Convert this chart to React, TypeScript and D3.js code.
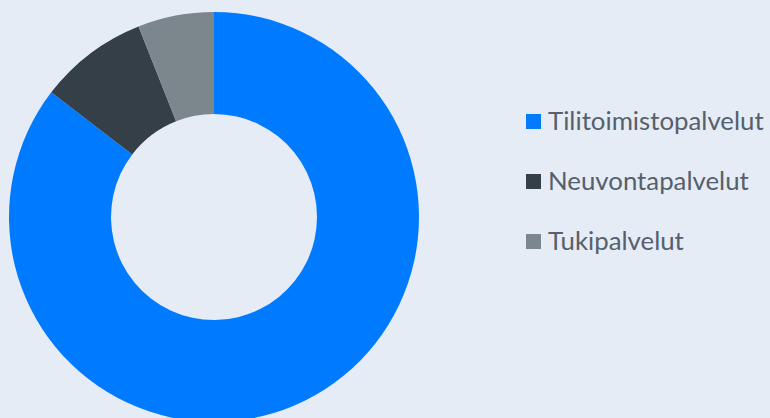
import * as d3 from "d3";

const labels = ["Tilitoimistopalvelut", "Neuvontapalvelut", "Tukipalvelut"];
const values = [85.4, 8.6, 6.0];
const colors = ["#007bff", "#343f48", "#7c868d"];

const width = 770,
  height = 418;
const cx = 214,
  cy = 217,
  outerR = 205,
  innerR = 103;

export default function App() {
  const pie = d3
    .pie<number>()
    .sort(null)
    .value((d) => d);
  const arcs = pie(values);
  const arc = d3.arc<d3.PieArcDatum<number>>().innerRadius(innerR).outerRadius(outerR);

  // legend rows
  const legendY = d3.scalePoint<string>().domain(labels).range([121.5, 241.5]);

  return (
    <svg
      width={width}
      height={height}
      style={{ position: "fixed", left: 0, top: 0, background: "#e5ecf6", display: "block" }}
    >
      <g transform={`translate(${cx},${cy})`}>
        {arcs.map((a, i) => (
          <path key={i} d={arc(a) || ""} fill={colors[i]} />
        ))}
      </g>
      <g fontFamily="Lato, 'Open Sans', sans-serif" fontSize={25.8} fill="#56606c">
        {labels.map((l, i) => (
          <g key={l} transform={`translate(526,${legendY(l)})`}>
            <rect x={0} y={-7.5} width={15} height={15} fill={colors[i]} />
            <text x={22} y={8}>
              {l}
            </text>
          </g>
        ))}
      </g>
    </svg>
  );
}
